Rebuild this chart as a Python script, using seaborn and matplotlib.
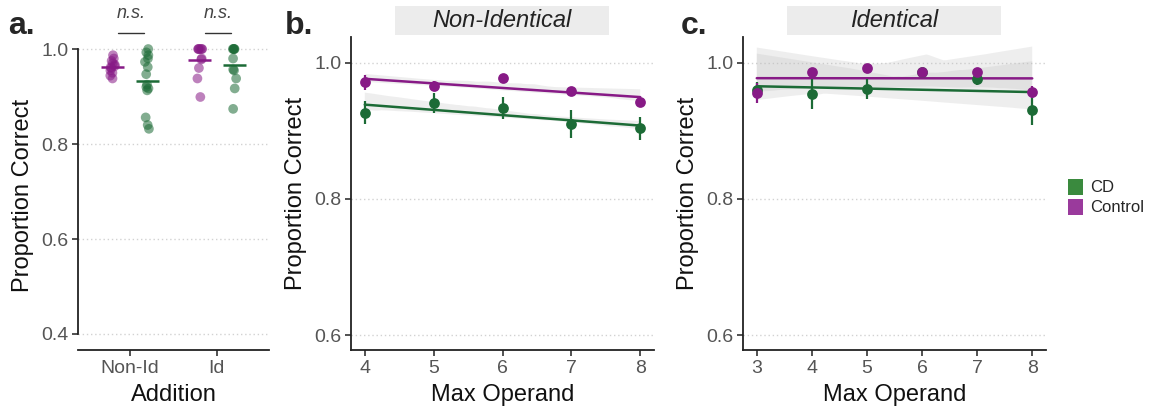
import numpy as np
import pandas as pd
import matplotlib
matplotlib.use("Agg")
import matplotlib.pyplot as plt
from matplotlib.patches import Patch, Rectangle
import seaborn as sns

# ---- data ----
groups = ["Control", "CD"]
addition_types = ["Non-Id", "Id"]

nonid_control = [0.987, 0.980, 0.975, 0.970, 0.967, 0.964, 0.962, 0.960, 0.955, 0.950, 0.944, 0.938]
nonid_cd = [1.0, 0.993, 0.987, 0.980, 0.973, 0.962, 0.947, 0.925, 0.920, 0.917, 0.913, 0.856, 0.840, 0.832]
id_control = [1.0, 1.0, 1.0, 1.0, 1.0, 1.0, 0.980, 0.978, 0.960, 0.938, 0.899]
id_cd = [1.0, 1.0, 1.0, 1.0, 1.0, 0.980, 0.957, 0.955, 0.938, 0.917, 0.874]

b_operand = [4, 5, 6, 7, 8]
b_control = [0.9716, 0.966, 0.978, 0.958, 0.942]
b_control_se = [0.011, 0.008, 0.003, 0.004, 0.005]
b_cd = [0.927, 0.941, 0.934, 0.910, 0.904]
b_cd_se = [0.017, 0.015, 0.016, 0.021, 0.017]

c_operand = [3, 4, 5, 6, 7, 8]
c_control = [0.956, 0.986, 0.993, 0.986, 0.986, 0.957]
c_control_se = [0.015, 0.006, 0.004, 0.005, 0.006, 0.009]
c_cd = [0.960, 0.954, 0.962, 0.986, 0.976, 0.930]
c_cd_se = [0.012, 0.022, 0.015, 0.005, 0.008, 0.022]

colors = {"Control": "#871a86", "CD": "#1c6b36"}
legend_colors = {"CD": "#3a8a3e", "Control": "#9a3a9c"}

sns.set_theme(style="white")
plt.rcParams["font.family"] = ["Liberation Sans", "DejaVu Sans"]

W, H = 1149, 411
fig = plt.figure(figsize=(W / 100, H / 100), dpi=100)


def px_axes(left, right, top, bottom):
    return fig.add_axes([left / W, 1 - bottom / H, (right - left) / W, (bottom - top) / H])


def style_axes(ax):
    for s in ["top", "right"]:
        ax.spines[s].set_visible(False)
    for s in ["left", "bottom"]:
        ax.spines[s].set_color("#222222")
        ax.spines[s].set_linewidth(1.3)
    ax.tick_params(axis="both", which="major", length=4, width=1.1, color="#222222",
                   labelsize=14, labelcolor="#555555", left=True, bottom=True, pad=3)
    ax.yaxis.grid(True, linestyle=(0, (1, 2)), color="#d2d2d2", linewidth=1.0)
    ax.xaxis.grid(False)
    ax.set_axisbelow(True)


# ---- panel a ----
rows = []
for add, ctrl, cd in [("Non-Id", nonid_control, nonid_cd), ("Id", id_control, id_cd)]:
    rows += [{"Addition": add, "Group": "Control", "prop": v} for v in ctrl]
    rows += [{"Addition": add, "Group": "CD", "prop": v} for v in cd]
df_a = pd.DataFrame(rows)

ax_a = px_axes(78, 269, 40, 350)
np.random.seed(3)
sns.stripplot(data=df_a, x="Addition", y="prop", hue="Group", order=addition_types,
              hue_order=groups, palette=colors, dodge=True, jitter=0.06, size=7,
              alpha=0.55, linewidth=0, ax=ax_a, legend=False)
means = df_a.groupby(["Addition", "Group"])["prop"].mean()
for i, add in enumerate(addition_types):
    for j, g in enumerate(groups):
        xc = i + (-0.2 if j == 0 else 0.2)
        ax_a.hlines(means[(add, g)], xc - 0.13, xc + 0.13, color=colors[g], lw=1.8, zorder=5)
    ax_a.plot([i - 0.14, i + 0.16], [1.034, 1.034], color="#333333", lw=1.0, clip_on=False)
    ax_a.text(i + 0.01, 1.075, "n.s.", ha="center", va="center", style="italic",
              fontsize=13, color="#444444", clip_on=False)
ax_a.set_xlim(-0.6, 1.6)
ax_a.set_ylim(0.3663, 1.019)
ax_a.set_yticks([0.4, 0.6, 0.8, 1.0])
ax_a.set_yticklabels(["0.4", "0.6", "0.8", "1.0"])
style_axes(ax_a)
ax_a.spines["left"].set_bounds(0.4, 1.0)
ax_a.set_xlabel("Addition", fontsize=17, color="#111111", labelpad=5)
ax_a.set_ylabel("Proportion Correct", fontsize=17, color="#111111", labelpad=5)


# ---- panels b and c ----
def reg_panel(ax, x, ctrl, ctrl_se, cd, cd_se, xlim, ci):
    for g, vals, se in [("CD", cd, cd_se), ("Control", ctrl, ctrl_se)]:
        d = pd.DataFrame({"x": x, "y": vals})
        sns.regplot(data=d, x="x", y="y", scatter=False, ci=ci, n_boot=1000, seed=1,
                    color=colors[g], line_kws={"lw": 1.8}, ax=ax, truncate=True)
        ax.errorbar(x, vals, yerr=se, fmt="none", ecolor=colors[g], elinewidth=1.6, zorder=4)
        sns.scatterplot(data=d, x="x", y="y", color=colors[g], s=60, linewidth=0,
                        ax=ax, zorder=5)
    for coll in ax.collections:
        if coll.__class__.__name__ in ("FillBetweenPolyCollection", "PolyCollection"):
            coll.set_facecolor("#bdbdbd")
            coll.set_alpha(0.25)
            coll.set_edgecolor("none")
    ax.set_xlim(*xlim)
    ax.set_ylim(0.578, 1.038)
    ax.set_yticks([0.6, 0.8, 1.0])
    ax.set_yticklabels(["0.6", "0.8", "1.0"])
    ax.set_xticks(x)
    style_axes(ax)
    ax.set_xlabel("Max Operand", fontsize=17, color="#111111", labelpad=5)
    ax.set_ylabel("Proportion Correct", fontsize=17, color="#111111", labelpad=5)


ax_b = px_axes(351, 654, 37, 350)
reg_panel(ax_b, b_operand, b_control, b_control_se, b_cd, b_cd_se, (3.8, 8.2), 68)
ax_c = px_axes(743, 1046, 37, 350)
reg_panel(ax_c, c_operand, c_control, c_control_se, c_cd, c_cd_se, (2.75, 8.25), 95)

for ax, title in [(ax_b, "Non-Identical"), (ax_c, "Identical")]:
    ax.add_patch(Rectangle((0.145, 1.005), 0.705, 0.093, transform=ax.transAxes,
                           facecolor="#ececec", edgecolor="none", clip_on=False))
    ax.text(0.4975, 1.052, title, transform=ax.transAxes, ha="center", va="center",
            style="italic", fontsize=17, color="#222222")

# panel letters
for x, lab in [(8, "a."), (285, "b."), (681, "c.")]:
    fig.text(x / W, 1 - 26 / H, lab, fontsize=23, fontweight="bold", va="center", ha="left")

# legend
handles = [Patch(facecolor=legend_colors[g], edgecolor="none", label=g) for g in ["CD", "Control"]]
fig.legend(handles=handles, loc="center left", bbox_to_anchor=(1068 / W, 1 - 197 / H),
           frameon=False, fontsize=12, handlelength=0.9, handleheight=1.1,
           handletextpad=0.4, labelspacing=0.2, borderpad=0, borderaxespad=0)

fig.savefig("out.png", dpi=100)
